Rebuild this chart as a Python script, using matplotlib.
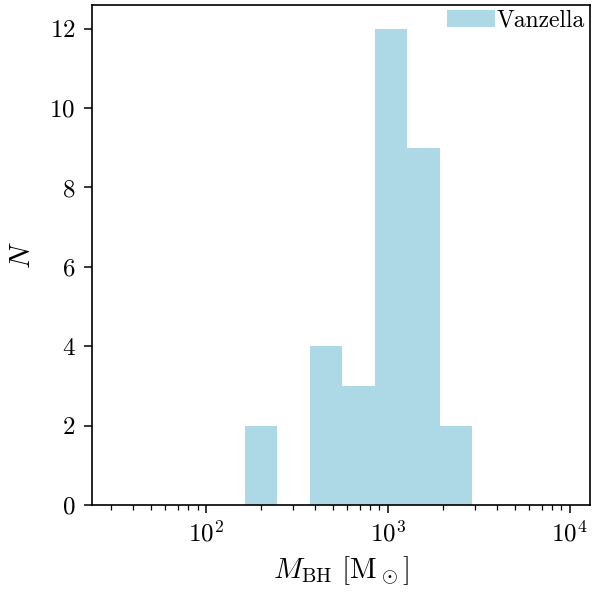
import numpy as np
import matplotlib
matplotlib.use("Agg")
from matplotlib import pyplot as plt

plt.rcParams['font.family'] = 'serif'
plt.rcParams['font.serif'] = ['cmr10']
plt.rcParams['mathtext.fontset'] = 'cm'
plt.rcParams['axes.formatter.use_mathtext'] = True
plt.rcParams['font.size'] = 18
plt.rcParams['axes.linewidth'] = 1.2
plt.rcParams['xtick.major.size'] = 6
plt.rcParams['ytick.major.size'] = 6
plt.rcParams['xtick.major.width'] = 1.1
plt.rcParams['ytick.major.width'] = 1.1
plt.rcParams['xtick.minor.size'] = 3.5
plt.rcParams['xtick.minor.width'] = 0.9
plt.rcParams['xtick.major.pad'] = 5
plt.rcParams['ytick.major.pad'] = 6

# log10 of bin edges, and counts per bin
log_edges = [2.214, 2.392, 2.571, 2.749, 2.928, 3.106, 3.285, 3.463]
counts = [2, 0, 4, 3, 12, 9, 2]

edges = 10 ** np.array(log_edges)
centers = np.sqrt(edges[:-1] * edges[1:])

fig = plt.figure(figsize=(5.94, 5.94), dpi=100)
ax = fig.add_axes([0.155, 0.15, 0.838, 0.8416])

ax.hist(centers, bins=edges, weights=counts, color='lightblue', label='Vanzella')
ax.set_xscale('log')
ax.set_xlim(23.7, 12900)
ax.set_ylim(0, 12.6)
ax.set_yticks([0, 2, 4, 6, 8, 10, 12])

ax.set_xlabel(r'$M_{\rm BH}\ [{\rm M}_\odot]$', fontsize=21, labelpad=6)
ax.set_ylabel(r'$N$', fontsize=21, labelpad=10)

ax.legend(loc='upper right', frameon=False, fontsize=17, handlelength=2.0,
          handletextpad=0.1, borderaxespad=0.1, borderpad=0.1)

fig.savefig('out.png', dpi=100)
